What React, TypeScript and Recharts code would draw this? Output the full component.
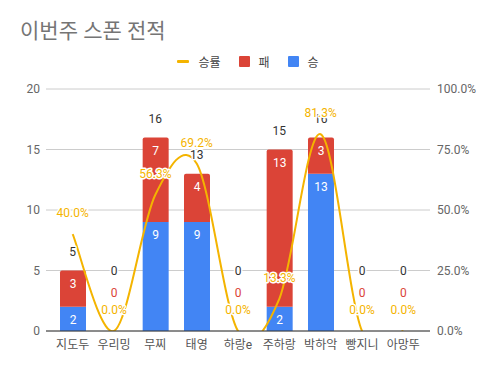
import { ComposedChart, Bar, Line, XAxis, YAxis, CartesianGrid, Legend, LabelList } from 'recharts';

const players = ['지도두', '우리밍', '무찌', '태영', '하랑e', '주하랑', '박하악', '빵지니', '아망뚜'];
const wins = [2, 0, 9, 9, 0, 2, 13, 0, 0];
const losses = [3, 0, 7, 4, 0, 13, 3, 0, 0];
const winRates = [0.4, 0, 0.563, 0.692, 0, 0.133, 0.813, 0, 0];

const leftTicks = [0, 5, 10, 15, 20];
const rightTicks = [0, 0.25, 0.5, 0.75, 1];

const BLUE = '#4285f4';
const RED = '#db4437';
const YELLOW = '#f4b400';
const FONT = "Roboto, 'Noto Sans CJK KR', sans-serif";

const data = players.map((name, i) => ({
    name,
    win: wins[i],
    loss: losses[i],
    total: wins[i] + losses[i],
    rate: winRates[i],
}));

const pct = (v: number) => (v * 100).toFixed(1) + '%';

// catmull-rom style smoothing, same feel as google's "function" curve
const smoothCurve: any = (context: any) => {
    let pts: number[][] = [];
    return {
        areaStart() {},
        areaEnd() {},
        lineStart() { pts = []; },
        point(x: number, y: number) { pts.push([+x, +y]); },
        lineEnd() {
            const n = pts.length;
            if (!n) return;
            context.moveTo(pts[0][0], pts[0][1]);
            for (let i = 0; i < n - 1; i++) {
                const p0 = pts[i - 1] || pts[i];
                const p1 = pts[i];
                const p2 = pts[i + 1];
                const p3 = pts[i + 2] || p2;
                context.bezierCurveTo(
                    p1[0] + (p2[0] - p0[0]) / 6, p1[1] + (p2[1] - p0[1]) / 6,
                    p2[0] - (p3[0] - p1[0]) / 6, p2[1] - (p3[1] - p1[1]) / 6,
                    p2[0], p2[1]
                );
            }
        },
    };
};

const halo = { stroke: '#fff', strokeWidth: 3, paintOrder: 'stroke', strokeLinejoin: 'round' } as any;

// white numbers near the top of each segment
const InsideLabel = (props: any) => {
    const { x, y, width, value } = props;
    if (!value) return null;
    return (
        <text x={x + width / 2} y={y + 13} dy="0.35em" textAnchor="middle" fill="#fff" fontSize={12} fontFamily={FONT}>
            {value}
        </text>
    );
};

// totals above the stack; empty columns also get the red "0"
const TotalLabel = (props: any) => {
    const { x, y, value } = props;
    if (value === 0) {
        return (
            <g fontSize={12} fontFamily={FONT} textAnchor="middle">
                <text x={x} y={y - 60} dy="0.35em" fill="#333" {...halo}>0</text>
                <text x={x} y={y - 38} dy="0.35em" fill={RED} {...halo}>0</text>
            </g>
        );
    }
    return (
        <text x={x} y={y - 19} dy="0.35em" textAnchor="middle" fill="#333" fontSize={12} fontFamily={FONT} {...halo}>
            {value}
        </text>
    );
};

const RateLabel = (props: any) => {
    const { x, y, value } = props;
    return (
        <text x={x} y={y - 21} dy="0.35em" textAnchor="middle" fill={YELLOW} fontSize={12} fontFamily={FONT} {...halo}>
            {pct(value)}
        </text>
    );
};

const renderLegend = () => {
    const items = [
        { label: '승률', color: YELLOW, line: true },
        { label: '패', color: RED },
        { label: '승', color: BLUE },
    ];
    return (
        <div style={{ display: 'flex', justifyContent: 'center', alignItems: 'center', fontFamily: FONT, fontSize: 12, color: '#444' }}>
            {items.map(it => (
                <div key={it.label} style={{ display: 'flex', alignItems: 'center', margin: '0 9px' }}>
                    {it.line
                        ? <span style={{ display: 'inline-block', width: 12, height: 3, background: it.color, borderRadius: 1 }} />
                        : <span style={{ display: 'inline-block', width: 11, height: 11, background: it.color, borderRadius: 1 }} />}
                    <span style={{ marginLeft: 9 }}>{it.label}</span>
                </div>
            ))}
        </div>
    );
};

export default function App() {
    return (
        <div style={{ position: 'relative', width: 496, height: 371, background: '#fff' }}>
            <style>{'body{margin:0}'}</style>
            <div style={{ position: 'absolute', left: 20, top: 18, fontFamily: FONT, fontSize: 21, color: '#757575', lineHeight: '26px' }}>
                이번주 스폰 전적
            </div>
            <ComposedChart
                width={496}
                height={371}
                data={data}
                margin={{ top: 69, right: 6, left: 6, bottom: 10 }}
                barSize={26}
            >
                <CartesianGrid yAxisId="left" vertical={false} stroke="#ccc" />
                <Legend verticalAlign="top" height={20} content={renderLegend} wrapperStyle={{ top: 53 }} />
                <XAxis
                    dataKey="name"
                    height={30}
                    padding={{ left: 6, right: 6 }}
                    tickSize={0}
                    tickMargin={9}
                    axisLine={{ stroke: '#333' }}
                    tick={{ fill: '#555', fontSize: 12, fontFamily: FONT }}
                />
                <YAxis
                    yAxisId="left"
                    width={40}
                    domain={[0, 20]}
                    ticks={leftTicks}
                    tickSize={0}
                    tickMargin={6}
                    axisLine={false}
                    tick={{ fill: '#666', fontSize: 12, fontFamily: FONT }}
                />
                <YAxis
                    yAxisId="right"
                    orientation="right"
                    width={60}
                    domain={[0, 1]}
                    allowDataOverflow
                    ticks={rightTicks}
                    tickFormatter={pct}
                    tickSize={0}
                    tickMargin={7}
                    axisLine={false}
                    tick={{ fill: '#666', fontSize: 12, fontFamily: FONT, textAnchor: 'start' }}
                />
                <Bar yAxisId="left" dataKey="win" stackId="a" fill={BLUE} isAnimationActive={false}>
                    <LabelList dataKey="win" content={InsideLabel} />
                </Bar>
                <Bar yAxisId="left" dataKey="loss" stackId="a" fill={RED} radius={[2, 2, 0, 0]} isAnimationActive={false}>
                    <LabelList dataKey="loss" content={InsideLabel} />
                </Bar>
                <Line
                    yAxisId="right"
                    dataKey="rate"
                    type={smoothCurve}
                    stroke={YELLOW}
                    strokeWidth={2}
                    dot={false}
                    activeDot={false}
                    isAnimationActive={false}
                />
                {/* carriers for the total and win-rate labels, so empty columns get labels too */}
                <Line
                    yAxisId="left"
                    dataKey="total"
                    stroke="none"
                    dot={false}
                    activeDot={false}
                    isAnimationActive={false}
                >
                    <LabelList dataKey="total" content={TotalLabel} />
                </Line>
                <Line
                    yAxisId="right"
                    dataKey="rate"
                    stroke="none"
                    dot={false}
                    activeDot={false}
                    isAnimationActive={false}
                >
                    <LabelList dataKey="rate" content={RateLabel} />
                </Line>
            </ComposedChart>
        </div>
    );
}
